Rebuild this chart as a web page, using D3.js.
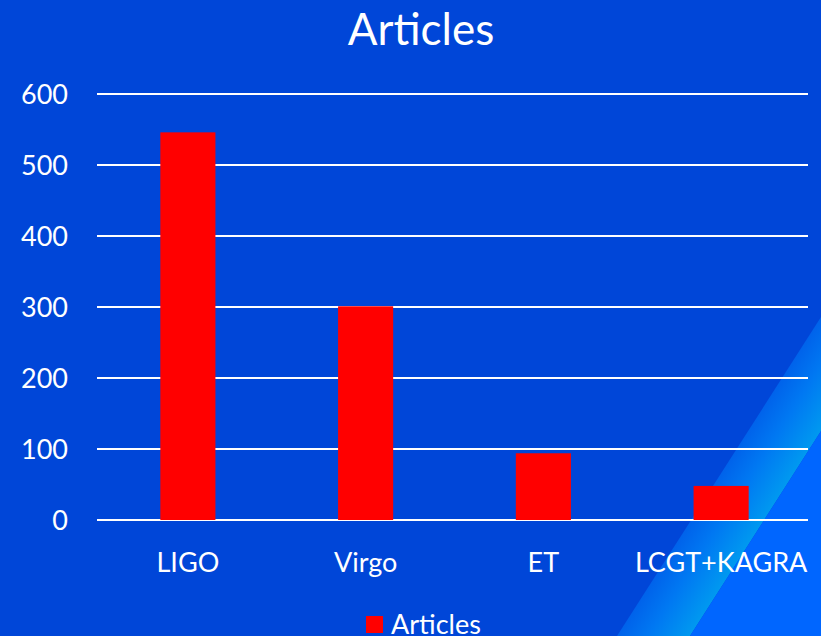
<!DOCTYPE html>
<html><head><meta charset="utf-8">
<script src="https://cdn.jsdelivr.net/npm/d3@7"></script>
<style>html,body{margin:0;padding:0;background:#0046d8;overflow:hidden}</style>
</head><body>
<svg id="c" width="821" height="636"></svg>
<script>
const categories = ["LIGO", "Virgo", "ET", "LCGT+KAGRA"];
const articles = [546, 301, 94, 48];
const yTicks = [0, 100, 200, 300, 400, 500, 600];
const seriesName = "Articles";

(function () {
const W = 821, H = 636;
const svg = d3.select("#c");
const font = "Lato, 'Open Sans', sans-serif";

// background
const defs = svg.append("defs");
const g1 = defs.append("linearGradient").attr("id", "band")
  .attr("gradientUnits", "userSpaceOnUse")
  .attr("x1", 640).attr("y1", 560).attr("x2", 720).attr("y2", 611);
g1.append("stop").attr("offset", "0").attr("stop-color", "#0050e4");
g1.append("stop").attr("offset", "0.5").attr("stop-color", "#0078f2");
g1.append("stop").attr("offset", "1").attr("stop-color", "#00a4ef");
svg.append("rect").attr("width", W).attr("height", H).attr("fill", "#0046d8");
svg.append("polygon").attr("points", "617,636 821,317 821,431 690,636").attr("fill", "url(#band)");
svg.append("polygon").attr("points", "690,636 821,431 821,636").attr("fill", "#0066ff");

const pLeft = 97, pRight = 808, pTop = 94, pBottom = 520;
const x = d3.scaleBand().domain(categories).range([pLeft + 2, pRight + 2]).paddingInner(0.69).paddingOuter(0.345);
const y = d3.scaleLinear().domain([0, 600]).range([pBottom, pTop]);

// gridlines
svg.append("g").selectAll("line").data(yTicks).join("line")
  .attr("x1", pLeft).attr("x2", pRight)
  .attr("y1", d => y(d)).attr("y2", d => y(d))
  .attr("stroke", "#ffffff").attr("stroke-width", 2);

// y axis labels
const ya = svg.append("g").attr("transform", `translate(${pLeft - 29},0)`)
  .call(d3.axisLeft(y).tickValues(yTicks).tickSize(0).tickPadding(0));
ya.select(".domain").remove();
ya.selectAll("text").attr("fill", "#fff").attr("font-family", font).attr("font-size", 27).attr("dy", "0.36em");

// bars
svg.append("g").selectAll("rect").data(articles).join("rect")
  .attr("x", (d, i) => x(categories[i]))
  .attr("width", x.bandwidth())
  .attr("y", d => y(d))
  .attr("height", d => y(0) - y(d))
  .attr("fill", "#ff0000");

// x axis labels
const xa = svg.append("g").attr("transform", `translate(0,${pBottom})`)
  .call(d3.axisBottom(x).tickSize(0).tickPadding(0));
xa.select(".domain").remove();
xa.selectAll("text").attr("fill", "#fff").attr("font-family", font).attr("font-size", 27)
  .attr("dy", null).attr("y", 52);

// title
svg.append("text").attr("x", 421).attr("y", 45).attr("text-anchor", "middle")
  .attr("fill", "#fff").attr("font-family", font).attr("font-size", 44).text(seriesName);

// legend
svg.append("rect").attr("x", 366).attr("y", 616).attr("width", 17).attr("height", 17).attr("fill", "#ff0000");
svg.append("text").attr("x", 391).attr("y", 634).attr("fill", "#fff").attr("font-family", font)
  .attr("font-size", 27).text(seriesName);
})();
</script>
</body></html>
